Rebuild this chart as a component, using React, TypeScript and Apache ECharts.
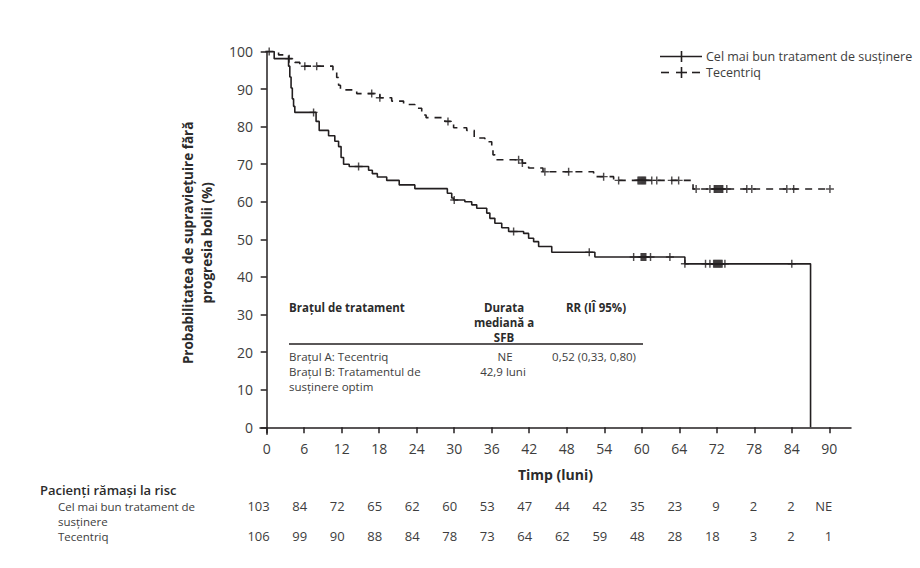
import React, { useEffect, useRef } from "react";
import * as echarts from "echarts";

// ---------- data ----------
const xTickValues = [0, 6, 12, 18, 24, 30, 36, 42, 48, 54, 60, 66, 72, 78, 84, 90];
const xTickLabels = ["0", "6", "12", "18", "24", "30", "36", "42", "48", "54", "60", "64", "72", "78", "84", "90"];
const yTickValues = [0, 10, 20, 30, 40, 50, 60, 70, 80, 90, 100];

// Kaplan-Meier steps [month, % progression-free]
const bscSteps: [number, number][] = [
  [0, 100], [1.2, 98.1], [3.5, 96.1], [3.7, 93.2], [3.9, 90.3], [4.1, 87.4], [4.3, 85.4], [4.5, 83.8],
  [7.9, 81.4], [8.4, 79.0], [9.9, 77.6], [10.9, 76.1], [11.5, 74.7], [11.9, 71.8], [12.3, 70.0],
  [13.2, 69.4], [16.3, 68.4], [16.9, 67.5], [17.7, 66.6], [19.2, 65.7], [21.2, 64.5], [23.7, 63.5],
  [28.9, 62.3], [29.6, 61.0], [29.9, 60.5], [31.7, 60.0], [32.8, 59.2], [33.6, 58.3], [35.2, 57.0],
  [35.7, 55.6], [36.5, 54.3], [37.6, 53.1], [38.7, 52.1], [41.1, 51.6], [41.9, 50.3], [42.7, 49.4],
  [43.5, 48.1], [45.6, 46.6], [52.5, 45.3], [66.9, 43.5], [87.0, 0],
];
const bscCensored = [
  7.5, 14.7, 30.0, 39.5, 51.6, 58.7, 59.9, 60.05, 60.2, 60.35, 60.5, 60.65, 61.4, 64.5, 66.9,
  70.2, 70.9, 71.5, 71.65, 71.8, 71.95, 72.1, 72.25, 72.4, 72.55, 72.7, 72.85, 73.3, 84.0,
];
const tecSteps: [number, number][] = [
  [0, 100], [1.9, 99.1], [3.5, 98.1], [4.5, 97.1], [5.3, 96.1], [10.6, 95.1], [11.2, 93.1],
  [11.5, 91.0], [11.8, 89.8], [14.4, 88.8], [18.1, 87.7], [20.0, 86.8], [21.9, 85.9], [23.7, 84.9],
  [24.8, 83.1], [25.5, 82.4], [28.5, 81.4], [29.9, 79.7], [32.0, 79.0], [33.2, 77.0], [34.9, 76.0],
  [36.0, 74.6], [36.2, 72.5], [36.5, 71.2], [40.9, 70.3], [41.9, 69.0], [44.2, 68.0], [52.3, 66.7],
  [55.5, 65.7], [68.2, 63.4], [90.1, 63.4],
];
const tecCensored = [
  0.4, 3.6, 6.1, 8.0, 16.8, 18.1, 29.0, 40.3, 40.9, 44.5, 48.3, 53.9, 56.3,
  59.4, 59.55, 59.7, 59.85, 60.0, 60.15, 60.3, 60.45, 60.6, 61.6, 62.4, 64.8, 65.9,
  68.7, 70.9, 71.6, 71.75, 71.9, 72.05, 72.2, 72.35, 72.5, 72.65, 72.8, 72.95, 73.6,
  76.8, 77.6, 83.2, 84.3, 90.1,
];

const seriesNames = ["Cel mai bun tratament de susținere", "Tecentriq"];

const riskTitle = "Pacienți rămași la risc";
const riskRowLabels = [["Cel mai bun tratament de", "susținere"], ["Tecentriq"]];
const riskBsc = ["103", "84", "72", "65", "62", "60", "53", "47", "44", "42", "35", "23", "9", "2", "2", "NE"];
const riskTec = ["106", "99", "90", "88", "84", "78", "73", "64", "62", "59", "48", "28", "18", "3", "2", "1"];

const tableHeaders = ["Brațul de tratament", ["Durata", "mediană a", "SFB"], "RR (IÎ 95%)"];
const tableRowA = ["Brațul A: Tecentriq", "NE", "0,52 (0,33, 0,80)"];
const tableRowB = [["Brațul B: Tratamentul de", "susținere optim"], "42,9 luni"];

const yTitle = "Probabilitatea de supraviețuire fără\nprogresia bolii (%)";
const xTitle = "Timp (luni)";

// ---------- helpers ----------
function survAt(steps: [number, number][], t: number): number {
  let v = steps[0][1];
  for (const [st, sv] of steps) {
    if (st <= t) v = sv;
    else break;
  }
  return v;
}

const INK = "#231f20";
const TXT = "#3d3d3d";
const PLUS = "path://M0,4.1H10V5.9H0Z M4.1,0H5.9V10H4.1Z";
const FONT = "'Open Sans', 'Noto Sans', sans-serif";

export default function App() {
  const ref = useRef<HTMLDivElement>(null);

  useEffect(() => {
    document.body.style.margin = "0";
    const chart = echarts.init(ref.current!, null, { renderer: "svg" });

    const option: any = {
      animation: false,
      backgroundColor: "#ffffff",
      grid: { left: 260, right: 69, top: 51.5, bottom: 133.7, containLabel: false },
      xAxis: {
        type: "value",
        min: -1.07,
        max: 93.47,
        axisLine: { show: true, lineStyle: { color: INK, width: 1.5 } },
        axisTick: { show: true, customValues: xTickValues, length: 6, lineStyle: { color: INK, width: 1.5 } },
        axisLabel: {
          show: true,
          customValues: xTickValues,
          margin: 7,
          color: TXT,
          fontSize: 14,
          fontFamily: FONT,
          formatter: (v: number) => {
            const i = xTickValues.indexOf(Math.round(v));
            return i >= 0 ? xTickLabels[i] : "";
          },
        },
        splitLine: { show: false },
      },
      yAxis: {
        type: "value",
        min: -1.86,
        max: 100,
        axisLine: { show: true, lineStyle: { color: INK, width: 1.5 } },
        axisTick: { show: true, customValues: yTickValues, length: 6, lineStyle: { color: INK, width: 1.5 } },
        axisLabel: {
          show: true,
          customValues: yTickValues,
          margin: 7,
          color: TXT,
          fontSize: 14,
          fontFamily: FONT,
          formatter: (v: number) => String(Math.round(v)),
        },
        splitLine: { show: false },
      },
      series: [
        {
          name: seriesNames[0],
          type: "line",
          step: "end",
          data: bscSteps,
          symbol: "none",
          lineStyle: { color: INK, width: 1.6 },
          z: 2,
        },
        {
          name: seriesNames[1],
          type: "line",
          step: "end",
          data: tecSteps,
          symbol: "none",
          lineStyle: { color: INK, width: 1.6, type: [7, 6] },
          z: 2,
        },
        {
          name: seriesNames[0] + " (cenzurat)",
          type: "scatter",
          data: bscCensored.map((t) => [t, survAt(bscSteps, t)]),
          symbol: PLUS,
          symbolSize: 8,
          itemStyle: { color: INK },
          z: 3,
        },
        {
          name: seriesNames[1] + " (cenzurat)",
          type: "scatter",
          data: tecCensored.map((t) => [t, survAt(tecSteps, t)]),
          symbol: PLUS,
          symbolSize: 8,
          itemStyle: { color: INK },
          z: 3,
        },
      ],
    };
    chart.setOption(option);

    const px = (t: number) => chart.convertToPixel({ xAxisIndex: 0 }, t) as number;
    const py = (v: number) => chart.convertToPixel({ yAxisIndex: 0 }, v) as number;

    const g: any[] = [];
    // legend
    g.push({ type: "line", shape: { x1: 660, y1: 56.5, x2: 702, y2: 56.5 }, style: { stroke: INK, lineWidth: 1.6 } });
    g.push({ type: "line", shape: { x1: 681.5, y1: 51, x2: 681.5, y2: 62 }, style: { stroke: INK, lineWidth: 1.6 } });
    g.push({
      type: "text", x: 706, y: 56.5,
      style: { text: seriesNames[0], font: `12.5px ${FONT}`, fill: TXT, verticalAlign: "middle", textAlign: "left" },
    });
    g.push({ type: "line", shape: { x1: 661, y1: 72.5, x2: 669, y2: 72.5 }, style: { stroke: INK, lineWidth: 1.6 } });
    g.push({ type: "line", shape: { x1: 676, y1: 72.5, x2: 687, y2: 72.5 }, style: { stroke: INK, lineWidth: 1.6 } });
    g.push({ type: "line", shape: { x1: 692, y1: 72.5, x2: 700, y2: 72.5 }, style: { stroke: INK, lineWidth: 1.6 } });
    g.push({ type: "line", shape: { x1: 681.5, y1: 67, x2: 681.5, y2: 78 }, style: { stroke: INK, lineWidth: 1.6 } });
    g.push({
      type: "text", x: 706, y: 72.5,
      style: { text: seriesNames[1], font: `12.5px ${FONT}`, fill: TXT, verticalAlign: "middle", textAlign: "left" },
    });

    // axis titles
    const yMid = (py(100) + py(-1.86)) / 2;
    g.push({
      type: "text", x: 197, y: yMid, rotation: Math.PI / 2,
      style: {
        text: yTitle, font: `bold 13.5px ${FONT}`, fill: "#2b2b2b", textAlign: "center",
        verticalAlign: "middle", lineHeight: 19,
      },
    });
    g.push({
      type: "text", x: (px(-1.07) + px(93.47)) / 2, y: 474,
      style: { text: xTitle, font: `bold 14px ${FONT}`, fill: "#2b2b2b", textAlign: "center", verticalAlign: "middle" },
    });

    // inset table
    const hdrFont = `bold 11.5px ${FONT}`;
    const bodyFont = `11.5px ${FONT}`;
    g.push({ type: "text", x: 289, y: 307, style: { text: tableHeaders[0] as string, font: hdrFont, fill: "#2b2b2b", verticalAlign: "middle" } });
    (tableHeaders[1] as string[]).forEach((line, i) => {
      g.push({
        type: "text", x: 504, y: 307 + i * 15,
        style: { text: line, font: hdrFont, fill: "#2b2b2b", textAlign: "center", verticalAlign: "middle" },
      });
    });
    g.push({ type: "text", x: 596, y: 307, style: { text: tableHeaders[2] as string, font: hdrFont, fill: "#2b2b2b", textAlign: "center", verticalAlign: "middle" } });
    g.push({ type: "line", shape: { x1: 289, y1: 344, x2: 643, y2: 344 }, style: { stroke: INK, lineWidth: 1.3 } });
    g.push({ type: "text", x: 289, y: 356, style: { text: tableRowA[0], font: bodyFont, fill: TXT, verticalAlign: "middle" } });
    g.push({ type: "text", x: 505, y: 356, style: { text: tableRowA[1], font: bodyFont, fill: TXT, textAlign: "center", verticalAlign: "middle" } });
    g.push({ type: "text", x: 594, y: 356, style: { text: tableRowA[2], font: bodyFont, fill: TXT, textAlign: "center", verticalAlign: "middle" } });
    (tableRowB[0] as string[]).forEach((line, i) => {
      g.push({ type: "text", x: 289, y: 371.5 + i * 15, style: { text: line, font: bodyFont, fill: TXT, verticalAlign: "middle" } });
    });
    g.push({ type: "text", x: 503, y: 371.5, style: { text: tableRowB[1] as string, font: bodyFont, fill: TXT, textAlign: "center", verticalAlign: "middle" } });

    // risk table
    const riskFont = `13px ${FONT}`;
    const riskLabelFont = `11.5px ${FONT}`;
    g.push({ type: "text", x: 40, y: 490, style: { text: riskTitle, font: `600 13px ${FONT}`, fill: "#2b2b2b", verticalAlign: "middle" } });
    riskRowLabels[0].forEach((line, i) => {
      g.push({ type: "text", x: 58, y: 506 + i * 15, style: { text: line, font: riskLabelFont, fill: TXT, verticalAlign: "middle" } });
    });
    g.push({ type: "text", x: 58, y: 536, style: { text: riskRowLabels[1][0], font: riskLabelFont, fill: TXT, verticalAlign: "middle" } });
    xTickValues.forEach((t, i) => {
      g.push({ type: "text", x: px(t) + 3, y: 506, style: { text: riskBsc[i], font: riskFont, fill: TXT, textAlign: "right", verticalAlign: "middle" } });
      g.push({ type: "text", x: px(t) + 3, y: 536, style: { text: riskTec[i], font: riskFont, fill: TXT, textAlign: "right", verticalAlign: "middle" } });
    });

    chart.setOption({ graphic: g });

    return () => chart.dispose();
  }, []);

  return <div ref={ref} style={{ width: 920, height: 568 }} />;
}
